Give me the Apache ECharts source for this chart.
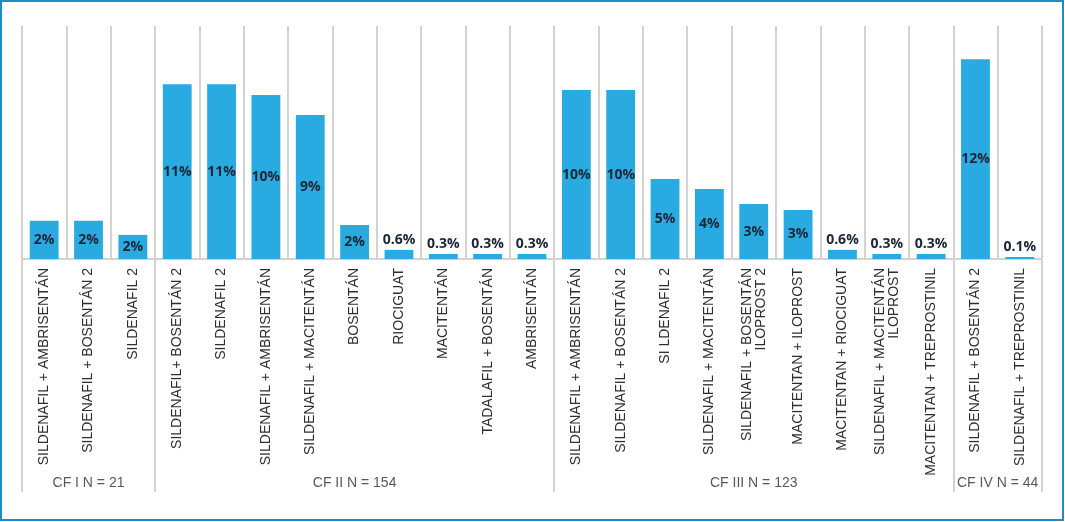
<!DOCTYPE html>
<html>
<head>
<meta charset="utf-8">
<script src="https://cdn.jsdelivr.net/npm/echarts@6/dist/echarts.min.js"></script>
<style>
html,body{margin:0;padding:0;background:#fff;}
#chart{position:absolute;left:0;top:0;width:1065px;height:522px;}
#frame{position:absolute;left:0;top:0;width:1064px;height:521px;box-sizing:border-box;border:2px solid #1e8cc6;pointer-events:none;}
</style>
</head>
<body>
<div id="chart"></div>
<div id="frame"></div>
<script>
const categories = [
  'SILDENAFIL + AMBRISENTÁN',
  'SILDENAFIL + BOSENTÁN 2',
  'SILDENAFIL 2',
  'SILDENAFIL+ BOSENTÁN 2',
  'SILDENAFIL 2',
  'SILDENAFIL + AMBRISENTÁN',
  'SILDENAFIL + MACITENTÁN',
  'BOSENTÁN',
  'RIOCIGUAT',
  'MACITENTÁN',
  'TADALAFIL + BOSENTÁN',
  'AMBRISENTÁN',
  'SILDENAFIL + AMBRISENTÁN',
  'SILDENAFIL + BOSENTÁN 2',
  'SI LDENAFIL 2',
  'SILDENAFIL + MACITENTÁN',
  'SILDENAFIL + BOSENTÁN\nILOPROST 2',
  'MACITENTAN + ILOPROST',
  'MACITENTAN + RIOCIGUAT',
  'SILDENAFIL + MACITENTÁN\nILOPROST',
  'MACITENTAN + TREPROSTINIL',
  'SILDENAFIL + BOSENTÁN 2',
  'SILDENAFIL + TREPROSTINIL'
];
const values = [2.3, 2.3, 1.45, 10.5, 10.5, 9.85, 8.65, 2.05, 0.55, 0.3, 0.3, 0.3,
                10.15, 10.15, 4.8, 4.2, 3.3, 2.95, 0.55, 0.3, 0.3, 12.0, 0.12];
const valueLabels = ['2%','2%','2%','11%','11%','10%','9%','2%','0.6%','0.3%','0.3%','0.3%',
                     '10%','10%','5%','4%','3%','3%','0.6%','0.3%','0.3%','12%','0.1%'];
const groupNames = ['CF I N = 21', 'CF II N = 154', 'CF III N = 123', 'CF IV N = 44'];
const groupSizes = [3, 9, 9, 2];

// derived group boundaries and centers
const boundaries = [0];
groupSizes.forEach(s => boundaries.push(boundaries[boundaries.length - 1] + s));
const centers = groupSizes.map((s, i) => boundaries[i] + s / 2);

const chart = echarts.init(document.getElementById('chart'), null, {renderer: 'canvas'});
const lineColor = '#d3d3d3';
const textColor = '#2e2e2e';

chart.setOption({
  animation: false,
  grid: [
    {left: 22, right: 23, top: 26, bottom: 263},
    {left: 22, right: 23, top: 26, bottom: 30}
  ],
  xAxis: [
    {
      type: 'category', gridIndex: 0, data: categories,
      axisLine: {show: true, lineStyle: {color: lineColor, width: 2}},
      axisTick: {show: false},
      splitLine: {show: true, interval: 0, lineStyle: {color: lineColor, width: 2}},
      axisLabel: {
        interval: 0, rotate: 90, margin: 9,
        fontFamily: 'Liberation Sans, Arial, sans-serif', fontSize: 14,
        color: textColor, lineHeight: 14
      }
    },
    {
      type: 'value', gridIndex: 1, min: 0, max: categories.length,
      show: false
    }
  ],
  yAxis: [
    {type: 'value', gridIndex: 0, min: 0, max: 14, show: false},
    {type: 'value', gridIndex: 1, min: 0, max: 1, show: false}
  ],
  series: [
    {
      type: 'bar', xAxisIndex: 0, yAxisIndex: 0,
      data: values.map((v, i) => ({
        value: v,
        label: {position: v < 1 ? 'top' : 'inside', distance: 3}
      })),
      barWidth: '65%',
      itemStyle: {color: '#29abe2'},
      label: {
        show: true,
        formatter: p => valueLabels[p.dataIndex],
        fontFamily: 'Open Sans, sans-serif', fontWeight: 'bold', fontSize: 14,
        color: '#1b2636'
      }
    },
    {
      type: 'lines', coordinateSystem: 'cartesian2d', xAxisIndex: 1, yAxisIndex: 1,
      data: boundaries.map(b => ({coords: [[b, 0], [b, 1]]})),
      lineStyle: {color: lineColor, width: 2, opacity: 1},
      silent: true
    },
    {
      type: 'scatter', xAxisIndex: 1, yAxisIndex: 1,
      symbolSize: 0,
      data: centers.map((c, i) => ({value: [c, 0], name: groupNames[i]})),
      label: {
        show: true, position: 'top', distance: 2,
        formatter: p => p.name,
        fontFamily: 'Liberation Sans, Arial, sans-serif', fontSize: 14, color: textColor
      },
      silent: true
    }
  ]
});
</script>
</body>
</html>
